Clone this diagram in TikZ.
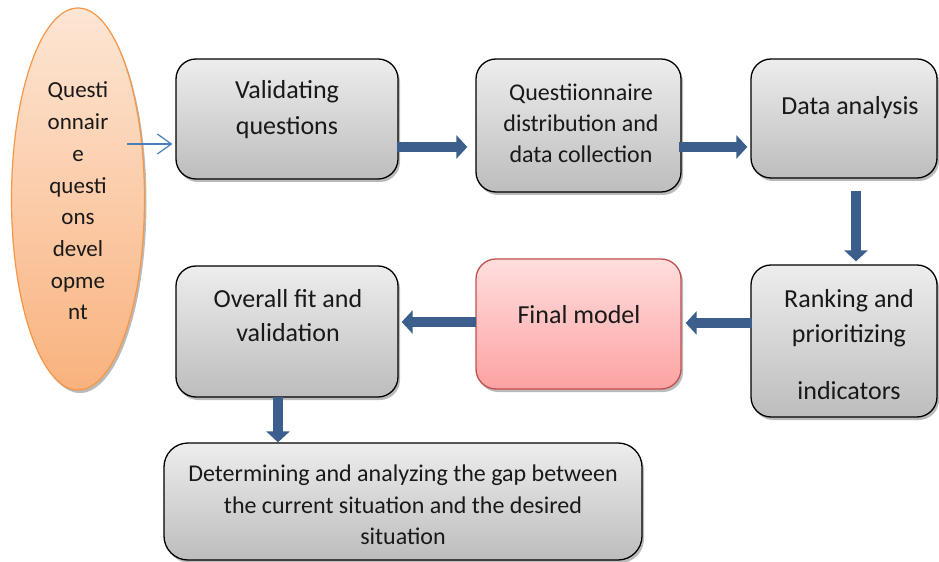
\documentclass[tikz,border=0pt]{standalone}
\usepackage{fontspec}
\setmainfont{Carlito}
\usetikzlibrary{shapes.geometric,shadows,arrows.meta,calc}
\definecolor{flowblue}{RGB}{59,94,140}
\definecolor{thinblue}{RGB}{74,126,187}
\definecolor{ovalline}{RGB}{247,150,70}
\definecolor{ovaltop}{RGB}{253,230,212}
\definecolor{ovalbot}{RGB}{249,178,126}
\definecolor{greytop}{RGB}{237,237,237}
\definecolor{greybot}{RGB}{189,189,189}
\definecolor{pinktop}{RGB}{255,222,222}
\definecolor{pinkbot}{RGB}{253,162,162}
\definecolor{pinkline}{RGB}{192,80,77}
\tikzset{
  stepbox/.style={draw=black, line width=1.3bp, rounded corners=20bp,
    top color=greytop, bottom color=greybot,
    drop shadow={shadow xshift=2bp, shadow yshift=-3bp, opacity=0.45, fill=black!60},
    inner sep=0pt},
  finalbox/.style={stepbox, draw=pinkline, top color=pinktop, bottom color=pinkbot},
  bigtxt/.style={align=center, text=black!90, inner sep=0pt,
    font=\fontsize{26bp}{36bp}\selectfont},
  midtxt/.style={align=center, text=black!90, inner sep=0pt,
    font=\fontsize{24bp}{31bp}\selectfont},
  flow/.style={draw=flowblue, line width=10bp,
    -{Triangle[length=11bp,width=23bp]}},
}
\begin{document}
\begin{tikzpicture}[x=1bp,y=-1bp]
\useasboundingbox (0,0) rectangle (939,562);

% development oval
\node[ellipse, draw=ovalline, line width=1.2bp, top color=ovaltop, bottom color=ovalbot,
  minimum width=133bp, minimum height=382bp, inner sep=0pt,
  drop shadow={shadow xshift=2bp, shadow yshift=-3bp, opacity=0.45, fill=black!60}]
  (dev) at (78,199) {};
\node[align=center, text=black!90, inner sep=0pt,
  font=\fontsize{23bp}{31.7bp}\selectfont] (devtxt) at (78,201)
  {Questi\\onnair\\e\\questi\\ons\\devel\\opme\\nt};

% process boxes
\node[stepbox, minimum width=222bp, minimum height=120bp] (b1) at (287,119) {};
\node[bigtxt] (t1) at (287,110) {Validating\\questions};

\node[stepbox, minimum width=205bp, minimum height=133bp] (b2) at (578.5,125.5) {};
\node[midtxt] (t2) at (581,123) {Questiionnaire\\distribution and\\data collection};

\node[stepbox, minimum width=186bp, minimum height=119bp] (b3) at (844,118.5) {};
\node[bigtxt] (t3) at (850,108) {Data analysis};

\node[stepbox, minimum width=186bp, minimum height=152bp] (b4) at (844,341) {};
\node[bigtxt, font=\fontsize{26bp}{35bp}\selectfont] (t4) at (849,345)
  {Ranking and\\prioritizing\\[22bp]indicators};

\node[finalbox, minimum width=205bp, minimum height=130bp] (b5) at (578.5,324) {};
\node[bigtxt] (t5) at (579,315) {Final model};

\node[stepbox, minimum width=222bp, minimum height=131bp] (b6) at (287,331.5) {};
\node[bigtxt, font=\fontsize{26bp}{34bp}\selectfont] (t6) at (288,316)
  {Overall fit and\\validation};

\node[stepbox, rounded corners=24bp, minimum width=478bp, minimum height=117bp] (b7) at (403,501.5) {};
\node[midtxt, font=\fontsize{24bp}{31.5bp}\selectfont] (t7) at (403,505)
  {Determining and analyzing the gap between\\the current situation and the desired\\situation};

% connectors
\draw[thinblue, line width=1.2bp, shorten <=-18bp, shorten >=3bp,
  -{Straight Barb[length=14bp,width=20bp]}]
  (dev.east |- 0,144) -- (b1.west |- 0,144);

\draw[flow, shorten <=-2bp, shorten >=8bp] (b1.east |- 0,147) -- (b2.west |- 0,147);
\draw[flow, shorten <=-3bp, shorten >=3bp] (b2.east |- 0,147) -- (b3.west |- 0,147);
\draw[flow, shorten <=12bp, shorten >=3bp] (b3.south -| 856,0) -- (b4.north -| 856,0);
\draw[flow, shorten <=-2bp, shorten >=4bp] (b4.west |- 0,323) -- (b5.east |- 0,323);
\draw[flow, shorten <=-1bp, shorten >=3bp] (b5.west |- 0,322) -- (b6.east |- 0,322);
\draw[flow, shorten <=-1bp, shorten >=0bp] (b6.south -| 278,0) -- (b7.north -| 278,0);
\end{tikzpicture}
\end{document}
